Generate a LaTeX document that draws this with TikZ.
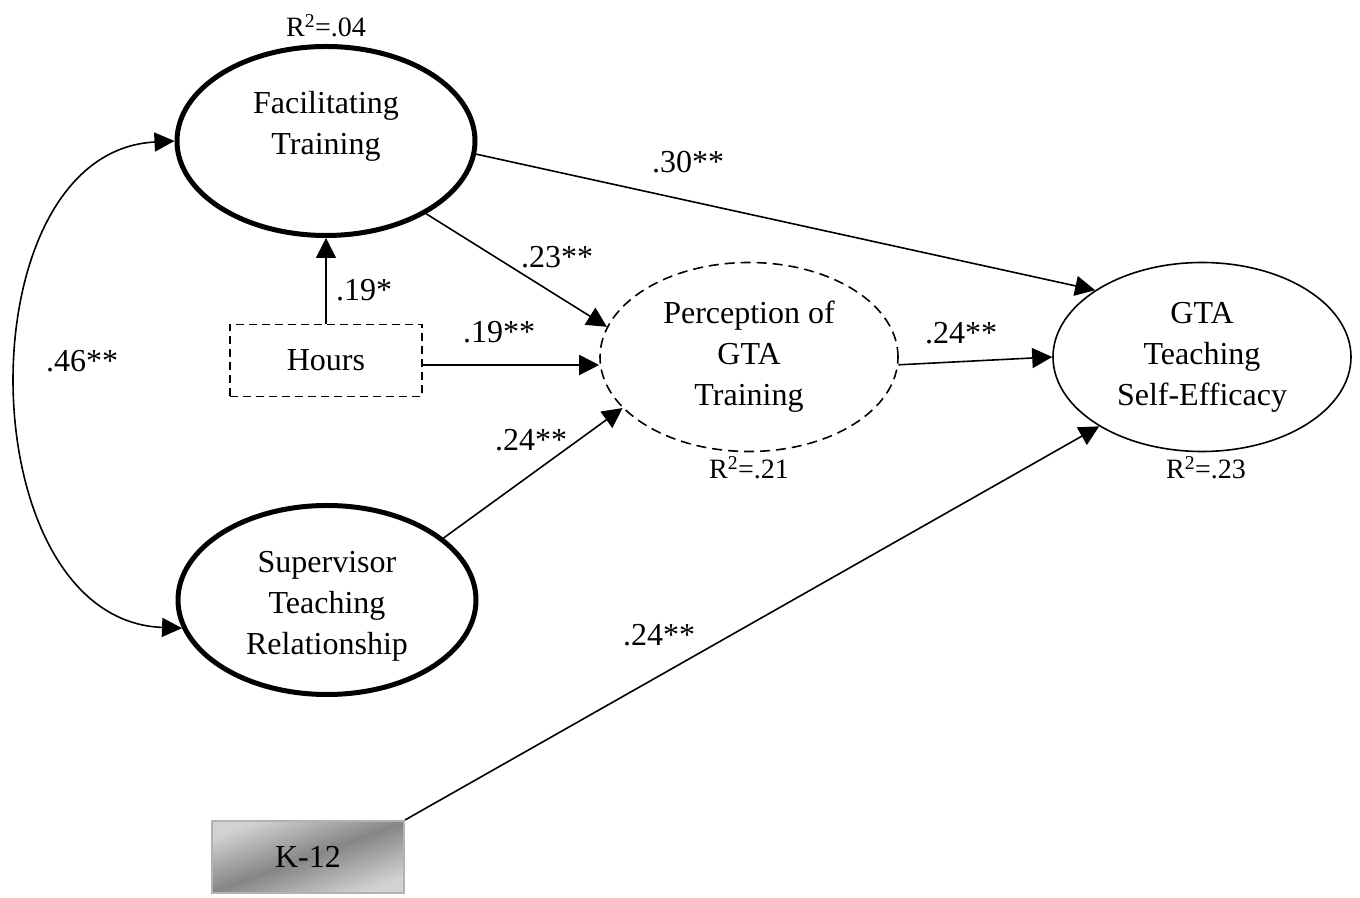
\documentclass[tikz,border=0pt]{standalone}
\usepackage{fontspec}
\setmainfont{Liberation Serif}
\usepackage{tikz}
\usetikzlibrary{arrows.meta,positioning,shapes.geometric}

\begin{document}
\begin{tikzpicture}[x=1pt, y=1pt,
  latent/.style={draw, ellipse, inner sep=0pt, minimum width=298pt,
    minimum height=189pt, align=center, font=\fontsize{32}{41}\selectfont},
  bigell/.style={latent, line width=5pt},
  thinell/.style={latent, line width=1.6pt},
  dashell/.style={latent, dashed, dash pattern=on 10pt off 6pt, line width=1.6pt},
  obsbox/.style={draw, rectangle, inner sep=0pt, minimum width=192pt,
    minimum height=72pt, font=\fontsize{32}{41}\selectfont},
  hoursbox/.style={obsbox, dashed, dash pattern=on 8pt off 5pt, line width=1.6pt},
  gradebox/.style={obsbox, draw=gray!60, line width=2pt, top color=gray!35,
    bottom color=gray!35, middle color=gray!95, shading angle=20},
  coef/.style={inner sep=0pt, font=\fontsize{32}{38}\selectfont},
  rsq/.style={inner sep=0pt, font=\fontsize{28}{32}\selectfont},
  flow/.style={-{Triangle[length=20pt,width=20pt]}, line width=1.6pt},
  corr/.style={{Triangle[length=20pt,width=19pt]}-{Triangle[length=20pt,width=19pt]},
    line width=1.6pt}]

  \useasboundingbox (0,0) rectangle (1360,897);

  \node[bigell, text depth=36pt] (fac) at (326,756) {Facilitating\\Training};
  \node[bigell, text height=116pt] (sup) at (327,297) {Supervisor\\Teaching\\Relationship};
  \node[dashell] (per) at (749,540) {Perception of\\GTA\\Training};
  \node[thinell] (gta) at (1202,540) {GTA\\Teaching\\Self-Efficacy};
  \node[hoursbox] (hours) at (326,536.5) {Hours};
  \node[gradebox] (k12) at (308,40) {K-12};

  \node[rsq, above=7pt of fac] (rfac) {R\textsuperscript{2}=.04};
  \node[rsq, below=4pt of per] (rper) {R\textsuperscript{2}=.21};
  \node[rsq, below=4pt of gta, xshift=4pt] (rgta) {R\textsuperscript{2}=.23};

  \node[coef] (c30) at (688,735) {.30**};
  \node[coef] (c23) at (557,640) {.23**};
  \node[coef] (c19a) at (364,607) {.19*};
  \node[coef] (c19b) at (499,565) {.19**};
  \node[coef] (c24a) at (961,564) {.24**};
  \node[coef] (c24b) at (531,457) {.24**};
  \node[coef] (c24c) at (659,262) {.24**};
  \node[coef] (c46) at (82,536) {.46**};

  \draw[flow] (fac.-5) -- (gta.148);
  \draw[flow] (fac.-36) -- (per.168);
  \draw[flow] (hours.north) -- (fac.south);
  \draw[flow] ([yshift=-4.5pt]hours.east) -- ([yshift=-4.5pt]hours.east -| per.west);
  \draw[flow] (sup.28) -- (per.202);
  \draw[flow] (per.-3) -- (gta.west);
  \draw[flow] (k12.north east) -- (gta.214);
  \draw[corr] (fac.west) .. controls (-38,745) and (-33,277) .. (sup.191);
\end{tikzpicture}
\end{document}
